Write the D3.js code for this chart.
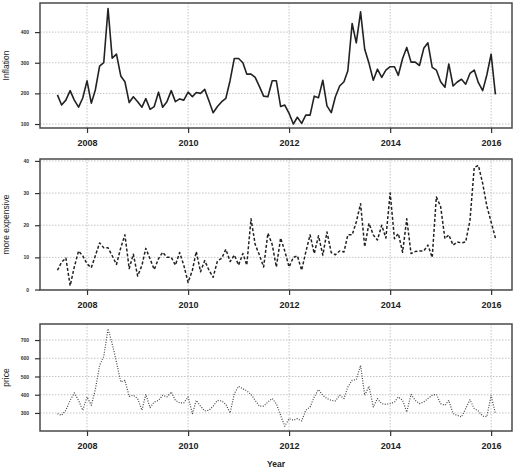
<!DOCTYPE html>
<html>
<head>
<meta charset="utf-8">
<script src="https://cdn.jsdelivr.net/npm/d3@7"></script>
<style>
  body { margin: 0; background: #fff; }
  svg { display: block; }
  text { font-family: "Liberation Sans", Arial, Helvetica, sans-serif; }
</style>
</head>
<body>
<svg width="518" height="474"></svg>
<script>
// monthly series, Jun 2007 .. Feb 2016
var inflation = [195,162,178,209,178,155,185,241,168,211,289,300,477,315,328,257,238,170,189,173,
  155,183,148,157,204,155,173,209,173,182,178,204,189,203,200,213,175,137,157,173,
  184,243,314,314,300,263,263,252,222,191,189,241,241,157,162,135,100,122,102,129,
  129,191,186,243,159,137,189,224,238,274,428,365,466,344,298,243,279,252,276,287,
  287,259,314,350,302,302,291,347,365,285,276,238,220,296,224,237,246,230,265,276,
  235,209,260,328,197];

var moreExpensive = [6,8.5,9.8,1.2,7,12,10.5,8,6.8,10.5,14.5,13,13,10.5,7.8,13,17,6.5,11,4.2,
  7.5,12.8,9.5,6.2,9.6,11.6,10,10,7.6,11.5,7.5,2.2,6,11.8,5.5,9,6,3.8,8.9,9.7,
  12.5,8.7,10.7,7.6,11.2,7.6,22,14,10.7,7,17.5,14,7,16,12,7,10,10.5,6,11.7,
  17,11.2,16.7,10.7,17.9,11.5,10.8,12,11.7,17,17,21,26.7,13.3,20.6,17,15.4,20,16,30,
  15.8,17.4,11.6,22,11.2,11.8,12,12,13.8,10,28.8,25.8,15.8,17,13.8,14.8,14.5,14.8,21.5,38,
  38.6,33,26,21,16];

var price = [296,287,315,369,410,369,315,388,342,428,561,610,762,680,579,470,479,391,397,379,
  315,402,329,360,369,397,388,415,369,355,355,388,296,369,337,311,315,337,369,366,
  347,300,406,446,433,421,402,369,337,337,360,379,351,287,227,269,260,269,256,315,
  333,388,428,397,379,369,366,397,379,442,479,483,561,397,446,333,379,351,347,351,
  360,388,369,305,402,369,351,360,379,397,402,351,342,369,296,287,278,324,373,324,
  311,282,280,397,296];

var yearTicks = [2008, 2010, 2012, 2014, 2016];
var inflationTicks = [100, 200, 300, 400];
var expensiveTicks = [0, 10, 20, 30, 40];
var priceTicks = [300, 400, 500, 600, 700];

var months = d3.timeMonth.range(new Date(2007, 5, 1), new Date(2016, 2, 1));

var svg = d3.select("svg");
var left = 40, right = 512;

var x = d3.scaleTime()
  .domain([new Date(2007, 0, 26), new Date(2016, 4, 31)])
  .range([left, right]);

var panels = [
  {values: inflation, label: "Inflation", top: 3, bottom: 128, domain: [87, 495], ticks: inflationTicks,
   width: 1.6, dash: null, color: "#222"},
  {values: moreExpensive, label: "more expensive", top: 159, bottom: 290, domain: [-0.15, 40.6], ticks: expensiveTicks,
   width: 1.5, dash: "3,2", color: "#222"},
  {values: price, label: "price", top: 324, bottom: 431, domain: [201, 788], ticks: priceTicks,
   width: 1.2, dash: "1,1.5", color: "#444"}
];

panels.forEach(function(p) {
  var y = d3.scaleLinear().domain(p.domain).range([p.bottom, p.top]);
  var g = svg.append("g");

  // grid
  g.selectAll(".hgrid")
    .data(p.ticks)
    .enter().append("line")
    .attr("x1", left).attr("x2", right)
    .attr("y1", function(d) { return y(d); })
    .attr("y2", function(d) { return y(d); })
    .attr("stroke", "#c4c4c4")
    .attr("stroke-width", 1)
    .attr("stroke-dasharray", "1.5,1.5");

  g.selectAll(".vgrid")
    .data(yearTicks)
    .enter().append("line")
    .attr("x1", function(d) { return x(new Date(d, 0, 1)); })
    .attr("x2", function(d) { return x(new Date(d, 0, 1)); })
    .attr("y1", p.top).attr("y2", p.bottom)
    .attr("stroke", "#c4c4c4")
    .attr("stroke-width", 1)
    .attr("stroke-dasharray", "1.5,1.5");

  // series
  var line = d3.line()
    .x(function(d, i) { return x(months[i]); })
    .y(function(d) { return y(d); });

  g.append("path")
    .datum(p.values)
    .attr("d", line)
    .attr("fill", "none")
    .attr("stroke", p.color)
    .attr("stroke-width", p.width)
    .attr("stroke-linejoin", "round")
    .attr("stroke-dasharray", p.dash);

  // box
  g.append("rect")
    .attr("x", left).attr("y", p.top)
    .attr("width", right - left).attr("height", p.bottom - p.top)
    .attr("fill", "none")
    .attr("stroke", "#4a4a4a")
    .attr("stroke-width", 1.5);

  // axes
  var xAxis = g.append("g")
    .attr("transform", "translate(0," + p.bottom + ")")
    .call(d3.axisBottom(x)
      .tickValues(yearTicks.map(function(d) { return new Date(d, 0, 1); }))
      .tickFormat(d3.timeFormat("%Y"))
      .tickSize(5)
      .tickPadding(7));
  xAxis.select(".domain").remove();
  xAxis.selectAll("line").attr("stroke", "#333").attr("stroke-width", 1.2);
  xAxis.selectAll("text")
    .attr("font-size", "9px")
    .attr("font-weight", "bold")
    .attr("fill", "#222")
    .style("font-family", "'Liberation Sans', Arial, sans-serif");

  var yAxis = g.append("g")
    .attr("transform", "translate(" + left + ",0)")
    .call(d3.axisLeft(y).tickValues(p.ticks).tickSize(5).tickPadding(6));
  yAxis.select(".domain").remove();
  yAxis.selectAll("line").attr("stroke", "#333").attr("stroke-width", 1.2);
  yAxis.selectAll("text")
    .attr("font-size", "5px")
    .attr("font-weight", "bold")
    .attr("fill", "#333")
    .style("font-family", "'Liberation Sans', Arial, sans-serif");

  g.append("text")
    .attr("transform", "translate(9," + ((p.top + p.bottom) / 2) + ") rotate(-90)")
    .attr("text-anchor", "middle")
    .attr("font-size", "8.5px")
    .attr("fill", "#222")
    .text(p.label);
});

svg.append("text")
  .attr("x", (left + right) / 2)
  .attr("y", 467)
  .attr("text-anchor", "middle")
  .attr("font-size", "8.5px")
  .attr("font-weight", "bold")
  .attr("fill", "#222")
  .text("Year");
</script>
</body>
</html>
